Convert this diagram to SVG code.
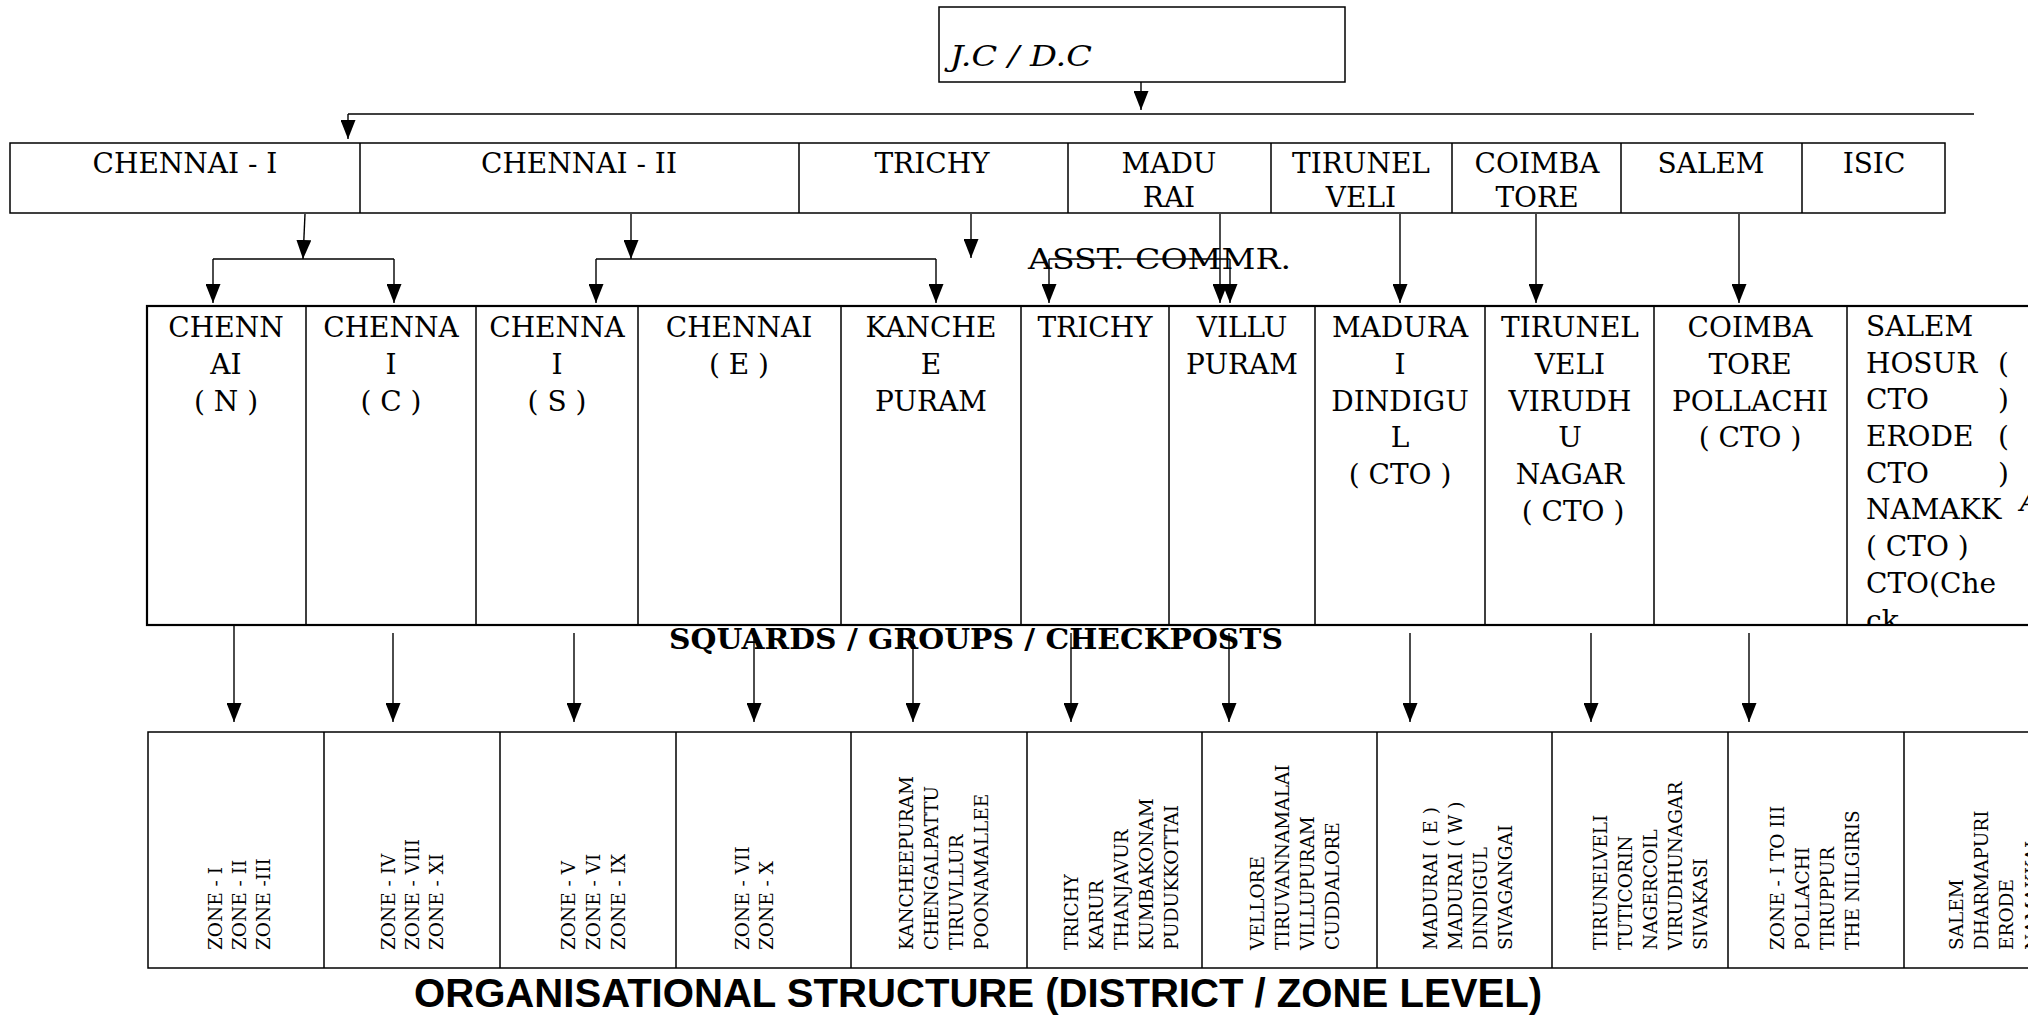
<svg xmlns="http://www.w3.org/2000/svg" width="2028" height="1015" viewBox="0 0 2028 1015">
<style>
.t{font-family:"DejaVu Serif","Liberation Serif",serif;font-size:28px;fill:#000}
.c{text-anchor:middle}
.r{font-family:"DejaVu Serif","Liberation Serif",serif;font-size:18.5px;fill:#000}
.b{fill:none;stroke:#000;stroke-width:1.5}
.bo{fill:none;stroke:#000;stroke-width:2.2}
.ln{fill:none;stroke:#000;stroke-width:1.4}
.ar{fill:none;stroke:#000;stroke-width:1.4;marker-end:url(#ah)}
</style>
<defs>
<marker id="ah" markerUnits="userSpaceOnUse" markerWidth="19" markerHeight="15" refX="19" refY="7.5" orient="auto" viewBox="0 0 19 15">
<path d="M0,0 L19,7.5 L0,15 Z" fill="#000"/>
</marker>
<clipPath id="salemclip"><rect x="1848" y="307" width="200" height="317"/></clipPath>
</defs>
<rect width="2028" height="1015" fill="#fff"/>

<g id="jc">
<rect class="b" x="939" y="7" width="406" height="75"/>
<text class="t" x="950" y="66" font-style="italic" textLength="142" lengthAdjust="spacingAndGlyphs">J.C / D.C</text>
</g>

<g id="top-row">
<rect class="b" x="10" y="143" width="1935" height="70"/>
<path class="b" d="M360,143V213M799,143V213M1068,143V213M1271,143V213M1452,143V213M1621,143V213M1802,143V213"/>
<g id="t-chennai1"><text class="t c" x="185" y="173">CHENNAI - I</text></g>
<g id="t-chennai2"><text class="t c" x="579" y="173">CHENNAI - II</text></g>
<g id="t-trichy"><text class="t c" x="932" y="173">TRICHY</text></g>
<g id="t-madurai"><text class="t c" x="1169" y="173">MADU</text><text class="t c" x="1169" y="207">RAI</text></g>
<g id="t-tirunelveli"><text class="t c" x="1361" y="173">TIRUNEL</text><text class="t c" x="1361" y="207">VELI</text></g>
<g id="t-coimbatore"><text class="t c" x="1537" y="173">COIMBA</text><text class="t c" x="1537" y="207">TORE</text></g>
<g id="t-salem"><text class="t c" x="1711" y="173">SALEM</text></g>
<g id="t-isic"><text class="t c" x="1874" y="173">ISIC</text></g>
</g>

<g id="asst-label"><text class="t" x="1028" y="269" font-size="32" textLength="263" lengthAdjust="spacingAndGlyphs">ASST. COMMR.</text></g>

<g id="mid-row">
<rect class="bo" x="147" y="306" width="1900" height="319"/>
<path class="b" d="M306,306V625M476,306V625M638,306V625M841,306V625M1021,306V625M1169,306V625M1315,306V625M1485,306V625M1654,306V625M1847,306V625"/>
<g id="m-chennai-n"><text class="t c" x="226" y="337">CHENN</text><text class="t c" x="226" y="374">AI</text><text class="t c" x="226" y="411">( N )</text></g>
<g id="m-chennai-c"><text class="t c" x="391" y="337">CHENNA</text><text class="t c" x="391" y="374">I</text><text class="t c" x="391" y="411">( C )</text></g>
<g id="m-chennai-s"><text class="t c" x="557" y="337">CHENNA</text><text class="t c" x="557" y="374">I</text><text class="t c" x="557" y="411">( S )</text></g>
<g id="m-chennai-e"><text class="t c" x="739" y="337">CHENNAI</text><text class="t c" x="739" y="374">( E )</text></g>
<g id="m-kancheepuram"><text class="t c" x="931" y="337">KANCHE</text><text class="t c" x="931" y="374">E</text><text class="t c" x="931" y="411">PURAM</text></g>
<g id="m-trichy"><text class="t c" x="1095" y="337">TRICHY</text></g>
<g id="m-villupuram"><text class="t c" x="1242" y="337">VILLU</text><text class="t c" x="1242" y="374">PURAM</text></g>
<g id="m-madurai"><text class="t c" x="1400" y="337">MADURA</text><text class="t c" x="1400" y="374">I</text><text class="t c" x="1400" y="411">DINDIGU</text><text class="t c" x="1400" y="447">L</text><text class="t c" x="1400" y="484">( CTO )</text></g>
<g id="m-tirunelveli"><text class="t c" x="1570" y="337">TIRUNEL</text><text class="t c" x="1570" y="374">VELI</text><text class="t c" x="1570" y="411">VIRUDH</text><text class="t c" x="1570" y="447">U</text><text class="t c" x="1570" y="484">NAGAR</text><text class="t c" x="1573" y="521">( CTO )</text></g>
<g id="m-coimbatore"><text class="t c" x="1750" y="337">COIMBA</text><text class="t c" x="1750" y="374">TORE</text><text class="t c" x="1750" y="411">POLLACHI</text><text class="t c" x="1750" y="447">( CTO )</text></g>
<g id="m-salem" clip-path="url(#salemclip)">
<text class="t" x="1866" y="336">SALEM</text>
<text class="t" x="1866" y="373">HOSUR</text><text class="t" x="1998" y="373">(</text>
<text class="t" x="1866" y="409">CTO</text><text class="t" x="1998" y="409">)</text>
<text class="t" x="1866" y="446">ERODE</text><text class="t" x="1998" y="446">(</text>
<text class="t" x="1866" y="483">CTO</text><text class="t" x="1998" y="483">)</text>
<text class="t" x="1866" y="519">NAMAKK</text>
<text class="t" x="1866" y="556">( CTO )</text>
<text class="t" x="1866" y="593">CTO(Che</text>
<text class="t" x="1866" y="630">ck</text>
</g>
<text class="t" x="2020" y="511" font-style="italic">A</text>
</g>

<g id="squards-label"><text class="t" x="669" y="649" font-weight="bold" font-size="29" textLength="614" lengthAdjust="spacingAndGlyphs">SQUARDS / GROUPS / CHECKPOSTS</text></g>

<g id="bottom-row">
<rect class="b" x="148" y="732" width="1900" height="236"/>
<path class="b" d="M324,732V968M500,732V968M676,732V968M851,732V968M1027,732V968M1202,732V968M1377,732V968M1552,732V968M1728,732V968M1904,732V968"/>
<g id="b-zone1">
<text class="r" transform="translate(222,950) rotate(-90)">ZONE  -  I</text>
<text class="r" transform="translate(246,950) rotate(-90)">ZONE  - II</text>
<text class="r" transform="translate(270,950) rotate(-90)">ZONE  -III</text>
</g>
<g id="b-zone4">
<text class="r" transform="translate(395,950) rotate(-90)">ZONE - IV</text>
<text class="r" transform="translate(419,950) rotate(-90)">ZONE - VIII</text>
<text class="r" transform="translate(443,950) rotate(-90)">ZONE - XI</text>
</g>
<g id="b-zone5">
<text class="r" transform="translate(575,950) rotate(-90)">ZONE  - V</text>
<text class="r" transform="translate(600,950) rotate(-90)">ZONE - VI</text>
<text class="r" transform="translate(625,950) rotate(-90)">ZONE - IX</text>
</g>
<g id="b-zone7">
<text class="r" transform="translate(749,950) rotate(-90)">ZONE - VII</text>
<text class="r" transform="translate(773,950) rotate(-90)">ZONE - X</text>
</g>
<g id="b-kancheepuram">
<text class="r" transform="translate(913,950) rotate(-90)">KANCHEEPURAM</text>
<text class="r" transform="translate(938,950) rotate(-90)">CHENGALPATTU</text>
<text class="r" transform="translate(963,950) rotate(-90)">TIRUVLLUR</text>
<text class="r" transform="translate(988,950) rotate(-90)">POONAMALLEE</text>
</g>
<g id="b-trichy">
<text class="r" transform="translate(1078,950) rotate(-90)">TRICHY</text>
<text class="r" transform="translate(1103,950) rotate(-90)">KARUR</text>
<text class="r" transform="translate(1128,950) rotate(-90)">THANJAVUR</text>
<text class="r" transform="translate(1153,950) rotate(-90)">KUMBAKONAM</text>
<text class="r" transform="translate(1178,950) rotate(-90)">PUDUKKOTTAI</text>
</g>
<g id="b-vellore">
<text class="r" transform="translate(1264,950) rotate(-90)">VELLORE</text>
<text class="r" transform="translate(1289,950) rotate(-90)">TIRUVANNAMALAI</text>
<text class="r" transform="translate(1314,950) rotate(-90)">VILLUPURAM</text>
<text class="r" transform="translate(1339,950) rotate(-90)">CUDDALORE</text>
</g>
<g id="b-madurai">
<text class="r" transform="translate(1437,950) rotate(-90)">MADURAI ( E )</text>
<text class="r" transform="translate(1462,950) rotate(-90)">MADURAI ( W )</text>
<text class="r" transform="translate(1487,950) rotate(-90)">DINDIGUL</text>
<text class="r" transform="translate(1512,950) rotate(-90)">SIVAGANGAI</text>
</g>
<g id="b-tirunelveli">
<text class="r" transform="translate(1607,950) rotate(-90)">TIRUNELVELI</text>
<text class="r" transform="translate(1632,950) rotate(-90)">TUTICORIN</text>
<text class="r" transform="translate(1657,950) rotate(-90)">NAGERCOIL</text>
<text class="r" transform="translate(1682,950) rotate(-90)">VIRUDHUNAGAR</text>
<text class="r" transform="translate(1707,950) rotate(-90)">SIVAKASI</text>
</g>
<g id="b-coimbatore">
<text class="r" transform="translate(1784,950) rotate(-90)">ZONE - I TO III</text>
<text class="r" transform="translate(1809,950) rotate(-90)">POLLACHI</text>
<text class="r" transform="translate(1834,950) rotate(-90)">TIRUPPUR</text>
<text class="r" transform="translate(1859,950) rotate(-90)">THE NILGIRIS</text>
</g>
<g id="b-salem">
<text class="r" transform="translate(1963,950) rotate(-90)">SALEM</text>
<text class="r" transform="translate(1988,950) rotate(-90)">DHARMAPURI</text>
<text class="r" transform="translate(2013,950) rotate(-90)">ERODE</text>
<text class="r" transform="translate(2039,950) rotate(-90)">NAMAKKAL</text>
</g>
</g>

<g id="connectors">
<path class="ar" d="M1141,82V110"/>
<path class="ln" d="M348,114H1974"/>
<path class="ar" d="M348,114V139"/>
<path class="ar" d="M305,214L303,259"/>
<path class="ln" d="M213,259H394"/>
<path class="ar" d="M213,259V303"/>
<path class="ar" d="M394,259V303"/>
<path class="ar" d="M631,214V259"/>
<path class="ln" d="M596,259H936"/>
<path class="ar" d="M596,259V303"/>
<path class="ar" d="M936,259V303"/>
<path class="ar" d="M971,214V258"/>
<path class="ln" d="M1049,259H1230"/>
<path class="ar" d="M1049,259V303"/>
<path class="ar" d="M1230,259V303"/>
<path class="ar" d="M1220,214V303"/>
<path class="ar" d="M1400,214V303"/>
<path class="ar" d="M1536,214V303"/>
<path class="ar" d="M1739,214V303"/>
<path class="ar" d="M234,625V722"/>
<path class="ar" d="M393,633V722"/>
<path class="ar" d="M574,633V722"/>
<path class="ar" d="M754,633V722"/>
<path class="ar" d="M913,633V722"/>
<path class="ar" d="M1071,633V722"/>
<path class="ar" d="M1229,633V722"/>
<path class="ar" d="M1410,633V722"/>
<path class="ar" d="M1591,633V722"/>
<path class="ar" d="M1749,633V722"/>
</g>

<g id="title"><text x="978" y="1007" text-anchor="middle" font-family="'Liberation Sans',Arial,sans-serif" font-weight="bold" font-size="40" textLength="1128" lengthAdjust="spacingAndGlyphs">ORGANISATIONAL STRUCTURE (DISTRICT / ZONE LEVEL)</text></g>
</svg>
